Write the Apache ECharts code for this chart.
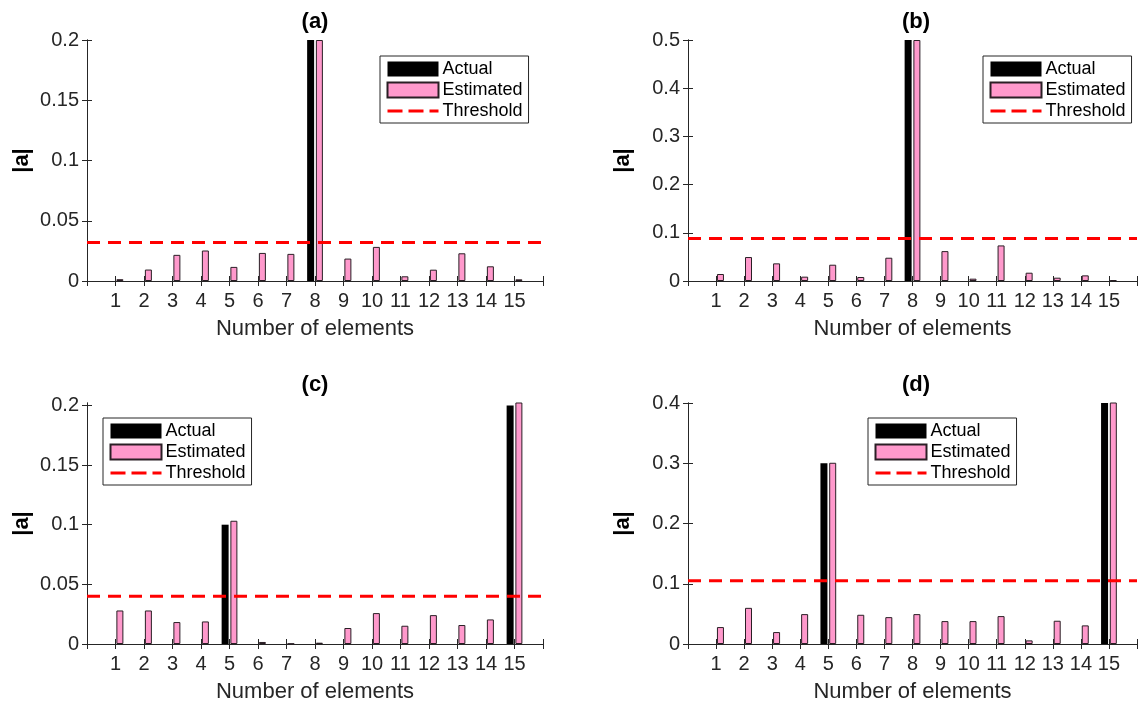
<!DOCTYPE html>
<html>
<head>
<meta charset="utf-8">
<script src="https://cdn.jsdelivr.net/npm/echarts@6/dist/echarts.min.js"></script>
<style>
html,body{margin:0;padding:0;background:#fff;}
#chart{width:1140px;height:704px;}
</style>
</head>
<body>
<div id="chart"></div>
<script>
// ---- data ----
const categories = [1,2,3,4,5,6,7,8,9,10,11,12,13,14,15];
const xRange = [0, 16];
const legendNames = ['Actual', 'Estimated', 'Threshold'];
const titles = ['(a)', '(b)', '(c)', '(d)'];
const xAxisTitle = 'Number of elements';
const yAxisTitle = '|a|';

const actualA = [0,0,0,0,0,0,0,0.2,0,0,0,0,0,0,0];
const estimatedA = [0.0015,0.0095,0.0217,0.0253,0.0117,0.0233,0.0225,0.2,0.0186,0.0283,0.0039,0.0094,0.023,0.0122,0.0014];
const thresholdA = 0.032;

const actualB = [0,0,0,0,0,0,0,0.5,0,0,0,0,0,0,0];
const estimatedB = [0.0145,0.0497,0.0366,0.009,0.0338,0.0083,0.0483,0.5,0.062,0.0048,0.0738,0.0172,0.0069,0.0117,0.002];
const thresholdB = 0.088;

const actualC = [0,0,0,0,0.1,0,0,0,0,0,0,0,0,0,0.2];
const estimatedC = [0.0281,0.0281,0.0184,0.0189,0.1033,0.0017,0.0003,0.0011,0.0134,0.0259,0.0153,0.0242,0.0159,0.0206,0.2025];
const thresholdC = 0.040;

const actualD = [0,0,0,0,0.3,0,0,0,0,0,0,0,0,0,0.4];
const estimatedD = [0.0281,0.060,0.0198,0.0496,0.3008,0.0485,0.0446,0.0496,0.038,0.038,0.0463,0.006,0.0386,0.0309,0.402];
const thresholdD = 0.105;

const yMaxes = [0.2, 0.5, 0.202, 0.4];
const yTicksA = [0, 0.05, 0.1, 0.15, 0.2];
const yTicksB = [0, 0.1, 0.2, 0.3, 0.4, 0.5];
const yTicksC = [0, 0.05, 0.1, 0.15, 0.2];
const yTicksD = [0, 0.1, 0.2, 0.3, 0.4];

// ---- layout ----
const FONT = 'Liberation Sans, Arial, Helvetica, sans-serif';
const AX = '#262626';
const panels = [
  {grid:{left:87, top:40, width:456, height:241}, legend:{left:380, top:56}, actual:actualA, est:estimatedA, thr:thresholdA, ticks:yTicksA},
  {grid:{left:688, top:40, width:456, height:241}, legend:{left:983, top:56}, actual:actualB, est:estimatedB, thr:thresholdB, ticks:yTicksB},
  {grid:{left:87, top:403, width:456, height:241}, legend:{left:103, top:418}, actual:actualC, est:estimatedC, thr:thresholdC, ticks:yTicksC},
  {grid:{left:688, top:403, width:456, height:241}, legend:{left:868, top:418}, actual:actualD, est:estimatedD, thr:thresholdD, ticks:yTicksD}
];

const option = {
  backgroundColor:'#fff',
  animation:false,
  title:[], grid:[], xAxis:[], yAxis:[], legend:[], series:[]
};

panels.forEach((p, i) => {
  const g = p.grid;
  option.grid.push({left:g.left, top:g.top, width:g.width, height:g.height, containLabel:false});
  option.title.push({
    text: titles[i], left: g.left + g.width/2, top: g.top - 29, textAlign:'center', padding:0,
    textStyle:{fontFamily:FONT, fontSize:22, fontWeight:'bold', color:'#000'}
  });
  const base = {
    gridIndex:i, type:'value', min:xRange[0], max:xRange[1], interval:1,
    axisLine:{show:true, lineStyle:{color:AX, width:1}},
    axisTick:{show:true, inside:true, length:5, lineStyle:{color:AX}},
    splitLine:{show:false}
  };
  option.xAxis.push(Object.assign({}, base, {
    position:'bottom',
    name:xAxisTitle, nameLocation:'middle', nameGap:37,
    nameTextStyle:{fontFamily:FONT, fontSize:22, color:'#262626'},
    axisLabel:{margin:10, fontFamily:FONT, fontSize:20, color:'#262626',
      formatter: v => (v >= 1 && v <= 15) ? String(v) : ''}
  }));
  option.xAxis.push(Object.assign({}, base, {position:'top', axisLabel:{show:false}}));
  const ybase = {
    gridIndex:i, type:'value', min:0, max:yMaxes[i],
    axisLine:{show:true, lineStyle:{color:AX, width:1}},
    axisTick:{show:true, inside:true, length:5, lineStyle:{color:AX}, customValues:p.ticks},
    splitLine:{show:false}
  };
  option.yAxis.push(Object.assign({}, ybase, {
    position:'left',
    name:yAxisTitle, nameLocation:'middle', nameGap:54, nameRotate:90,
    nameTextStyle:{fontFamily:FONT, fontSize:22, fontWeight:'bold', color:'#000'},
    axisLabel:{margin:8, fontFamily:FONT, fontSize:20, color:'#262626', customValues:p.ticks,
      formatter: v => String(+v.toFixed(4))}
  }));
  option.yAxis.push(Object.assign({}, ybase, {position:'right', axisLabel:{show:false}}));

  option.legend.push({
    left:p.legend.left, top:p.legend.top, orient:'vertical',
    data:[
      {name:legendNames[0], icon:'rect'},
      {name:legendNames[1], icon:'rect'},
      {name:legendNames[2], itemStyle:{color:'rgba(0,0,0,0)', borderWidth:0, opacity:0},
       lineStyle:{color:'#FF0000', width:3, type:[15,6], opacity:1}}
    ],
    selectedMode:false,
    itemWidth:51, itemHeight:15, itemGap:3,
    padding:[4,6,3,6], borderColor:AX, borderWidth:1, backgroundColor:'#fff',
    textStyle:{fontFamily:FONT, fontSize:18, color:'#000', padding:[0,0,0,-1]}
  });

  const xi = i*2, yi = i*2;
  option.series.push({
    name:legendNames[0], type:'bar', xAxisIndex:xi, yAxisIndex:yi,
    barWidth:7, barGap:'25%',
    itemStyle:{color:'#000000', borderColor:'#000', borderWidth:0},
    data: categories.map((c, k) => [c, p.actual[k]])
  });
  option.series.push({
    name:legendNames[1], type:'bar', xAxisIndex:xi, yAxisIndex:yi,
    barWidth:7, barGap:'25%',
    itemStyle:{color:'#FF99CC', borderColor:'#2a1f25', borderWidth:1},
    data: categories.map((c, k) => [c, p.est[k]])
  });
  option.series.push({
    name:legendNames[2], type:'line', xAxisIndex:xi, yAxisIndex:yi,
    symbol:'none', z:5,
    lineStyle:{color:'#FF0000', width:3, type:[13,8]},
    itemStyle:{color:'#FF0000'},
    data: xRange.map(x => [x, p.thr])
  });
});

const chart = echarts.init(document.getElementById('chart'), null, {renderer:'canvas'});
chart.setOption(option);
</script>
</body>
</html>
